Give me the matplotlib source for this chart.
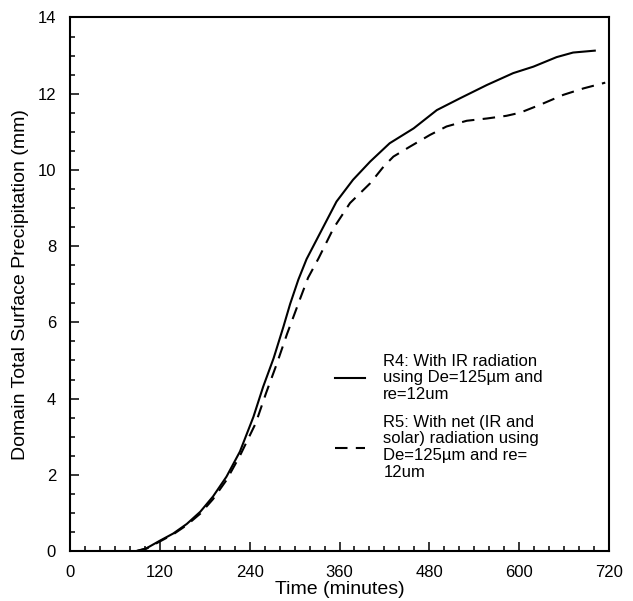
import matplotlib
matplotlib.use("Agg")
import matplotlib.pyplot as plt
from matplotlib.ticker import MultipleLocator

plt.rcParams['font.family'] = ['Liberation Sans', 'DejaVu Sans']

# R4: IR radiation only
time_r4 = [89, 102, 120, 138, 156, 174, 191, 209, 227, 245, 258, 272, 285, 294,
           305, 316, 334, 356, 378, 401, 427, 459, 490, 521, 557, 592, 619, 650,
           672, 701]
precip_r4 = [0, 0.07, 0.27, 0.46, 0.71, 1.03, 1.43, 1.95, 2.61, 3.52, 4.31, 5.06,
             5.88, 6.48, 7.12, 7.66, 8.34, 9.17, 9.74, 10.22, 10.7, 11.09, 11.57,
             11.88, 12.23, 12.54, 12.71, 12.96, 13.08, 13.13]

# R5: net (IR + solar) radiation
time_r5 = [89, 102, 120, 138, 156, 174, 191, 209, 227, 248, 262, 276, 290, 301,
           307, 318, 332, 352, 374, 401, 419, 432, 454, 481, 503, 530, 557, 583,
           601, 628, 659, 686, 715]
precip_r5 = [0, 0.06, 0.25, 0.44, 0.68, 0.98, 1.36, 1.86, 2.5, 3.35, 4.15, 4.9,
             5.7, 6.28, 6.6, 7.17, 7.68, 8.47, 9.13, 9.65, 10.09, 10.35, 10.61,
             10.92, 11.14, 11.29, 11.35, 11.42, 11.5, 11.71, 11.97, 12.14, 12.29]

label_r4 = "R4: With IR radiation\nusing De=125\u00b5m and\nre=12um"
label_r5 = "R5: With net (IR and\nsolar) radiation using\nDe=125\u00b5m and re=\n12um"

fig = plt.figure(figsize=(6.33, 6.01), dpi=100)
ax = fig.add_axes([0.1106, 0.0832, 0.8515, 0.8877])

ax.plot(time_r4, precip_r4, color='black', lw=1.5, label=label_r4)
ax.plot(time_r5, precip_r5, color='black', lw=1.5, dashes=(6, 4), label=label_r5)

ax.set_xlim(0, 720)
ax.set_ylim(0, 14)
ax.xaxis.set_major_locator(MultipleLocator(120))
ax.xaxis.set_minor_locator(MultipleLocator(20))
ax.yaxis.set_major_locator(MultipleLocator(2))
ax.yaxis.set_minor_locator(MultipleLocator(0.5))
ax.tick_params(which='both', direction='in', labelsize=12, width=1.1)
ax.tick_params(which='major', length=6.5, pad=10)
ax.tick_params(which='minor', length=3.6)
for s in ax.spines.values():
    s.set_linewidth(1.5)

ax.set_xlabel("Time (minutes)", fontsize=14, labelpad=1)
ax.set_ylabel("Domain Total Surface Precipitation (mm)", fontsize=14, labelpad=6)

leg = ax.legend(loc='upper left', bbox_to_anchor=(0.4917, 0.37), frameon=False,
                borderpad=0, borderaxespad=0, fontsize=12, handlelength=1.8,
                handletextpad=1.1, labelspacing=0.75)
for t in leg.get_texts():
    t.set_linespacing(1.15)

fig.savefig("out.png", dpi=100)
